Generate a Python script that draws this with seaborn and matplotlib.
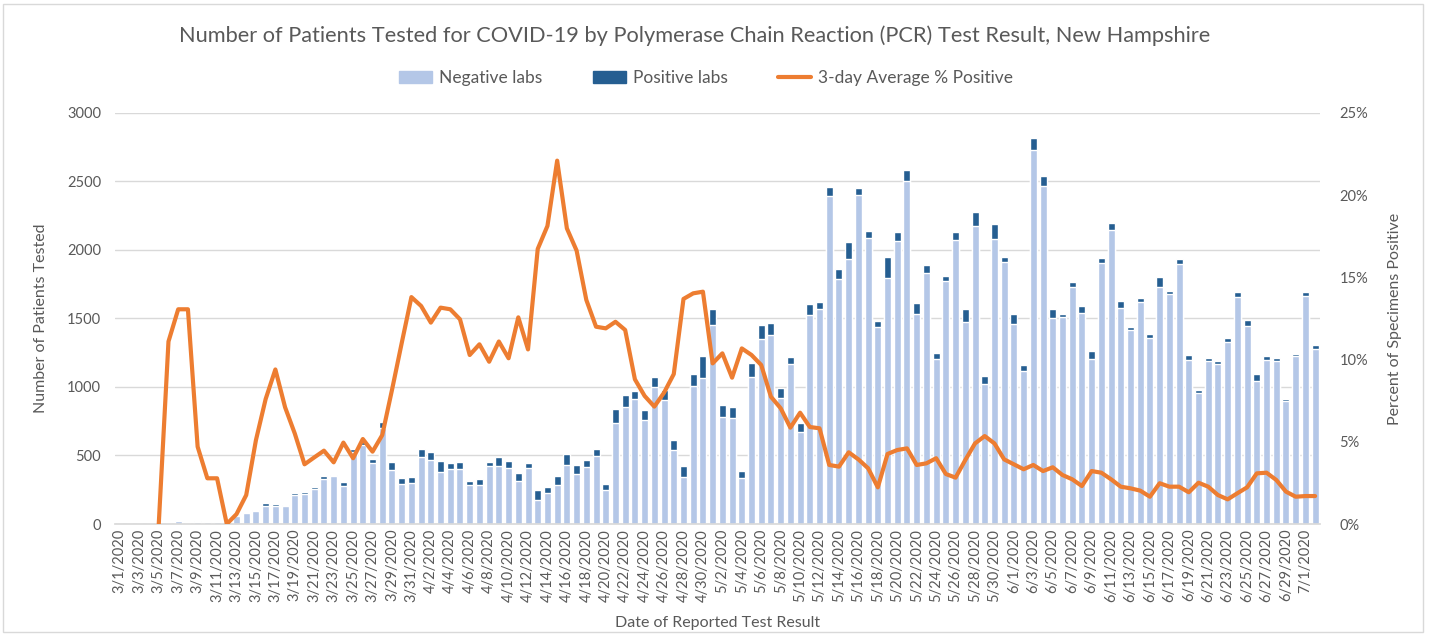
import matplotlib.pyplot as plt
from matplotlib.patches import Patch, Rectangle
from matplotlib.lines import Line2D
import seaborn as sns
import pandas as pd
import numpy as np

# 3/1/2020 .. 7/2/2020
dates = ['%d/%d/%d' % (d.month, d.day, d.year) for d in pd.date_range('2020-03-01', '2020-07-02')]

negative_labs = [0, 0, 0, 0, 5, 0, 22, 0, 16, 15, 16, 2, 57, 77, 97, 133, 134, 134, 210, 220,
                 256, 331, 351, 280, 527, 580, 448, 700, 395, 293, 297, 488, 464, 383, 403, 403, 286, 286, 420, 420,
                 412, 315, 412, 176, 224, 285, 432, 366, 419, 493, 249, 737, 854, 915, 756, 1001, 908, 537, 340, 1005,
                 1064, 1449, 781, 774, 334, 1071, 1352, 1376, 920, 1171, 671, 1529, 1566, 2391, 1786, 1933, 2404, 2086, 1435, 1798,
                 2067, 2504, 1535, 1829, 1203, 1773, 2074, 1473, 2172, 1024, 2079, 1913, 1462, 1115, 2733, 2465, 1503, 1511, 1729, 1539,
                 1207, 1908, 2147, 1576, 1418, 1620, 1357, 1730, 1680, 1895, 1198, 957, 1190, 1171, 1325, 1655, 1447, 1047, 1195, 1188,
                 895, 1224, 1665, 1274]
positive_labs = [0, 0, 0, 0, 0, 0, 3, 0, 3, 1, 0, 1, 3, 5, 5, 17, 10, 5, 15, 12,
                 12, 20, 8, 27, 20, 20, 25, 44, 54, 46, 49, 59, 61, 78, 41, 46, 29, 41, 29, 66,
                 49, 56, 32, 73, 49, 66, 78, 66, 49, 54, 44, 105, 85, 54, 78, 73, 73, 78, 85, 93,
                 161, 122, 85, 80, 56, 105, 102, 93, 73, 49, 66, 76, 54, 66, 73, 122, 46, 49, 46, 151,
                 61, 80, 80, 59, 46, 37, 54, 98, 102, 54, 110, 39, 68, 44, 83, 73, 68, 24, 37, 49,
                 54, 37, 49, 49, 22, 32, 32, 73, 20, 37, 37, 24, 20, 20, 32, 39, 39, 51, 32, 22,
                 20, 20, 29, 34]
pct_positive = [None, None, None, None, 0, 11.1, 13.06, 13.06, 4.7, 2.78, 2.78, 0, 0.6, 1.76, 5.1, 7.6, 9.4, 7.1, 5.5, 3.63,
                4.05, 4.46, 3.75, 4.95, 4.0, 5.17, 4.4, 5.41, 8.15, 11.0, 13.8, 13.26, 12.25, 13.16, 13.06, 12.45, 10.28, 10.93, 9.87, 11.1,
                10.08, 12.57, 10.62, 16.73, 18.13, 22.1, 17.98, 16.63, 13.63, 12.0, 11.9, 12.3, 11.8, 8.8, 7.79, 7.14, 7.99, 9.12, 13.69, 14.03,
                14.13, 9.77, 10.38, 8.9, 10.68, 10.28, 9.67, 7.74, 7.04, 5.86, 6.77, 5.9, 5.82, 3.59, 3.49, 4.36, 3.93, 3.39, 2.23, 4.26,
                4.5, 4.6, 3.59, 3.69, 4.0, 3.04, 2.82, 3.89, 4.9, 5.35, 4.9, 3.93, 3.63, 3.33, 3.59, 3.22, 3.45, 2.98, 2.72, 2.31,
                3.22, 3.12, 2.72, 2.27, 2.17, 2.03, 1.66, 2.48, 2.27, 2.27, 1.93, 2.51, 2.27, 1.76, 1.5, 1.87, 2.23, 3.08, 3.12, 2.68,
                1.97, 1.66, 1.7, 1.7]

c_neg = '#B4C7E7'
c_pos = '#255E91'
c_line = '#ED7D31'
c_text = '#595959'
c_grid = '#D9D9D9'

sns.set_theme(style='white')
plt.rcParams['font.family'] = ['Lato', 'DejaVu Sans']

df = pd.DataFrame({'date': dates, 'neg': negative_labs, 'pos': positive_labs, 'pct': pct_positive})
df['total'] = df['neg'] + df['pos']
df['idx'] = np.arange(len(df))

fig = plt.figure(figsize=(14.29, 6.34), dpi=100)
ax = fig.add_axes([0.0805, 0.1735, 0.8432, 0.6483])

# stacked look: dark full-height bar, light negative bar over it
sns.barplot(data=df, x='date', y='total', order=dates, color=c_pos, saturation=1,
            width=0.72, errorbar=None, ax=ax)
sns.barplot(data=df, x='date', y='neg', order=dates, color=c_neg, saturation=1,
            width=0.72, errorbar=None, ax=ax)

ax.set_xlim(-0.5, len(dates) - 0.5)
ax.set_ylim(0, 3000)
ax.set_yticks(range(0, 3001, 500))
ax.yaxis.grid(True, color=c_grid, linewidth=1)
ax.set_axisbelow(True)
ax.set_xticks(range(0, len(dates), 2))
ax.set_xticklabels(dates[::2], rotation=90)
ax.tick_params(axis='both', labelsize=10.5, colors=c_text, length=0)
ax.tick_params(axis='y', pad=10)
for s in ['top', 'right', 'left']:
    ax.spines[s].set_visible(False)
ax.spines['bottom'].set_color(c_grid)
ax.set_xlabel('Date of Reported Test Result', fontsize=11.5, color=c_text, labelpad=10)
ax.set_ylabel('Number of Patients Tested', fontsize=11.5, color=c_text, labelpad=14)

ax2 = ax.twinx()
sns.lineplot(data=df.dropna(subset=['pct']), x='idx', y='pct', color=c_line, linewidth=3,
             ax=ax2, legend=False)
ax2.set_ylim(0, 25)
ax2.set_yticks(range(0, 26, 5))
ax2.set_yticklabels(['%d%%' % v for v in range(0, 26, 5)])
ax2.tick_params(axis='y', labelsize=10.5, colors=c_text, length=0, pad=14)
for s in ['top', 'right', 'left', 'bottom']:
    ax2.spines[s].set_visible(False)
ax2.set_ylabel('Percent of Specimens Positive', fontsize=11.5, color=c_text, labelpad=14)
ax2.set_xlim(-0.5, len(dates) - 0.5)

fig.suptitle('Number of Patients Tested for COVID-19 by Polymerase Chain Reaction (PCR) Test Result, New Hampshire',
             x=0.486, y=0.943, va='center', fontsize=15.7, color=c_text)

handles = [Patch(color=c_neg), Patch(color=c_pos), Line2D([], [], color=c_line, linewidth=3)]
fig.legend(handles, ['Negative labs', 'Positive labs', '3-day Average % Positive'],
           loc='center', bbox_to_anchor=(0.494, 0.877), ncol=3, frameon=False,
           fontsize=12.5, labelcolor=c_text, columnspacing=2.9, handlelength=1.9, handletextpad=0.4)

fig.patches.append(Rectangle((0.002, 0.003), 0.994, 0.99, transform=fig.transFigure,
                             fill=False, edgecolor=c_grid, linewidth=1))

fig.savefig('out.png', dpi=100)
